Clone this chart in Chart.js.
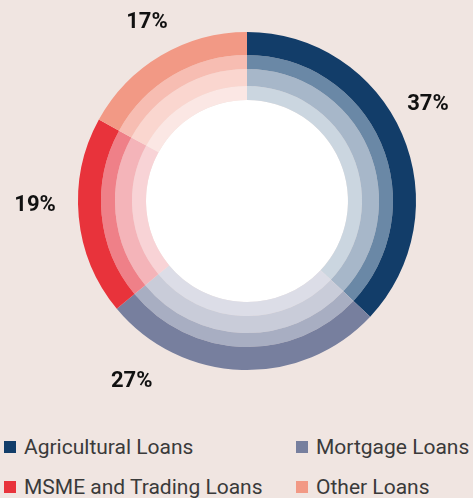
<!DOCTYPE html>
<html>
<head>
<meta charset="utf-8">
<script src="https://cdn.jsdelivr.net/npm/chart.js@4.4.1/dist/chart.umd.min.js"></script>
<style>
  html, body { margin: 0; padding: 0; }
  body { width: 473px; height: 498px; background: #f0e5e1; font-family: Roboto, sans-serif; overflow: hidden; }
  #wrap { position: relative; width: 473px; height: 420px; }
  #leyenda { display: grid; grid-template-columns: 293px 180px; row-gap: 18px; margin-top: 16px; }
  .item { display: flex; align-items: center; font-size: 21px; color: #3a3a3a; height: 22px; white-space: nowrap; }
  .caja { width: 12px; height: 12px; margin-left: 4px; margin-right: 8px; flex: none; }
  #leyenda .item:nth-child(even) .caja { margin-left: 3px; }
</style>
</head>
<body>
<div id="wrap"><canvas id="grafico" width="473" height="420"></canvas></div>
<div id="leyenda"></div>
<script>
// datos del gráfico
const categorias = ['Agricultural Loans', 'Mortgage Loans', 'MSME and Trading Loans', 'Other Loans'];
const valores = [37, 27, 19, 17];
const etiquetas = ['37%', '27%', '19%', '17%'];

// colores por anillo (de afuera hacia adentro)
const colorAnillo1 = ['#123d69', '#777f9e', '#e8333b', '#f29985'];
const colorAnillo2 = ['#6a88a6', '#a8aec2', '#ef8088', '#f7bdb2'];
const colorAnillo3 = ['#a7b7c9', '#c9ccd9', '#f4b4b9', '#fad6cf'];
const colorAnillo4 = ['#cbd6e0', '#dcdde7', '#f8d3d6', '#fbe7e4'];

// posición de las etiquetas (ángulo en grados desde las 3 en punto, distancia al centro)
const anguloEtiqueta = [-28.0, 122.6, 178.9, 240.8];
const distEtiqueta = [205, 214, 212, 205];

const anillo = (colores, peso) => ({
  data: valores,
  backgroundColor: colores,
  borderWidth: 0,
  weight: peso
});

const etiquetasPlugin = {
  id: 'etiquetas',
  afterDraw(chart) {
    const c = chart.ctx;
    const arc = chart.getDatasetMeta(0).data[0];
    const cx = arc.x, cy = arc.y;
    c.save();
    c.font = 'bold 22px Roboto';
    c.fillStyle = '#111';
    c.textAlign = 'center';
    c.textBaseline = 'middle';
    etiquetas.forEach((t, i) => {
      const a = anguloEtiqueta[i] * Math.PI / 180;
      c.fillText(t, cx + Math.cos(a) * distEtiqueta[i], cy + Math.sin(a) * distEtiqueta[i]);
    });
    c.restore();
  }
};

new Chart(document.getElementById('grafico').getContext('2d'), {
  type: 'doughnut',
  data: {
    labels: categorias,
    datasets: [
      anillo(colorAnillo1, 23),
      anillo(colorAnillo2, 14),
      anillo(colorAnillo3, 17),
      anillo(colorAnillo4, 14),
      { data: [1], backgroundColor: ['#ffffff'], borderWidth: 0, weight: 101 }
    ]
  },
  options: {
    responsive: false,
    animation: false,
    cutout: 0,
    layout: { padding: { left: 78, right: 57, top: 32, bottom: 50 } },
    plugins: {
      legend: { display: false },
      tooltip: { enabled: false }
    },
    events: []
  },
  plugins: [etiquetasPlugin]
});

// leyenda en dos columnas
const leyenda = document.getElementById('leyenda');
categorias.forEach((nombre, i) => {
  const d = document.createElement('div');
  d.className = 'item';
  d.innerHTML = `<span class="caja" style="background:${colorAnillo1[i]}"></span>${nombre}`;
  leyenda.appendChild(d);
});
</script>
</body>
</html>
